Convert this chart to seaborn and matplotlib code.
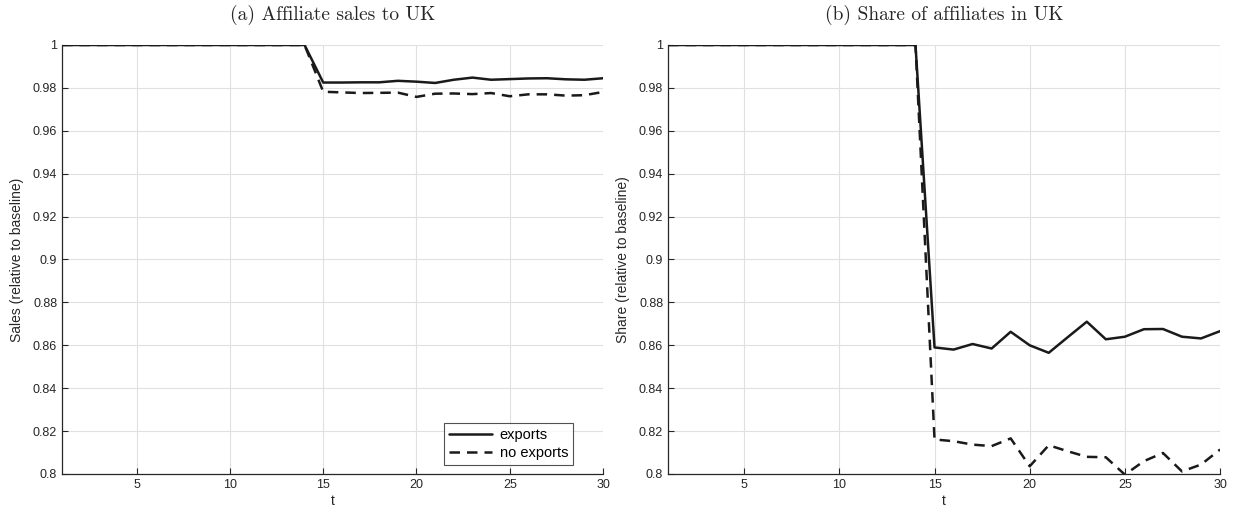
# UK affiliate sales / share, two panels
import pandas as pd
import seaborn as sns
import matplotlib.pyplot as plt
from matplotlib.ticker import FuncFormatter

t = list(range(1, 31))

# panel (a): affiliate sales to UK, relative to baseline
sales_exports = [1.0] * 14 + [0.9825, 0.9825, 0.9826, 0.9826, 0.9833, 0.9829, 0.9823, 0.9838,
                              0.9848, 0.9838, 0.9841, 0.9844, 0.9845, 0.9840, 0.9838, 0.9845]
sales_no_exports = [1.0] * 14 + [0.9782, 0.9779, 0.9776, 0.9777, 0.9778, 0.9758, 0.9773, 0.9774,
                                 0.9771, 0.9776, 0.9761, 0.9770, 0.9770, 0.9764, 0.9766, 0.9781]

# panel (b): share of affiliates in UK, relative to baseline
share_exports = [1.0] * 14 + [0.859, 0.858, 0.8606, 0.8585, 0.8663, 0.860, 0.8565, 0.8638,
                              0.871, 0.8628, 0.864, 0.8675, 0.8676, 0.864, 0.8632, 0.8666]
share_no_exports = [1.0] * 14 + [0.8161, 0.8153, 0.8137, 0.813, 0.8166, 0.8036, 0.8134, 0.8106,
                                 0.808, 0.8078, 0.7997, 0.806, 0.8098, 0.8012, 0.8044, 0.8114]

series_names = ['exports', 'no exports']
titles = ['(a) Affiliate sales to UK', '(b) Share of affiliates in UK']
ylabels = ['Sales (relative to baseline)', 'Share (relative to baseline)']
yticks = [0.8, 0.82, 0.84, 0.86, 0.88, 0.9, 0.92, 0.94, 0.96, 0.98, 1.0]
xticks = [5, 10, 15, 20, 25, 30]


def make_df(a, b):
    d1 = pd.DataFrame({'t': t, 'value': a, 'series': series_names[0]})
    d2 = pd.DataFrame({'t': t, 'value': b, 'series': series_names[1]})
    return pd.concat([d1, d2], ignore_index=True)


sns.set_theme(style='white')
plt.rcParams['font.family'] = ['Liberation Sans', 'DejaVu Sans']

fig = plt.figure(figsize=(12.33, 5.16), dpi=100)
ax_a = fig.add_axes([0.0503, 0.0814, 0.4388, 0.8314])
ax_b = fig.add_axes([0.5418, 0.0814, 0.4477, 0.8314])

dfs = [make_df(sales_exports, sales_no_exports), make_df(share_exports, share_no_exports)]
dark = '#262626'

for i, (ax, df) in enumerate(zip([ax_a, ax_b], dfs)):
    sns.lineplot(data=df, x='t', y='value', style='series', color='#1a1a1a',
                 dashes={'exports': '', 'no exports': (4.2, 2.8)}, linewidth=1.8,
                 legend=(i == 0), ax=ax)
    ax.set_xlim(1, 30)
    ax.set_ylim(0.8, 1.0)
    ax.set_xticks(xticks)
    ax.set_yticks(yticks)
    ax.yaxis.set_major_formatter(FuncFormatter(lambda v, p: '{:g}'.format(round(v, 2))))
    ax.grid(True, color='#e0e0e0', linewidth=0.8)
    for s in ['top', 'right']:
        ax.spines[s].set_visible(False)
    for s in ['left', 'bottom']:
        ax.spines[s].set_color(dark)
        ax.spines[s].set_linewidth(0.9)
    ax.tick_params(direction='in', length=4, width=0.8, color=dark,
                   labelsize=9, labelcolor=dark, left=True, bottom=True)
    ax.set_xlabel('t', fontsize=10, color=dark, labelpad=2)
    ax.set_ylabel(ylabels[i], fontsize=10, color=dark, labelpad=6)
    ax.set_title(titles[i], fontsize=14, family='cmr10', pad=18)

leg = ax_a.legend(loc='lower right', bbox_to_anchor=(0.945, 0.02), fontsize=10.5,
                  frameon=True, fancybox=False, edgecolor=dark, handlelength=3.0,
                  borderaxespad=0.0, labelspacing=0.3, borderpad=0.35, handletextpad=0.5)
leg.get_frame().set_linewidth(0.8)
for txt in leg.get_texts():
    txt.set_color('black')

fig.savefig('out.png', dpi=100)
